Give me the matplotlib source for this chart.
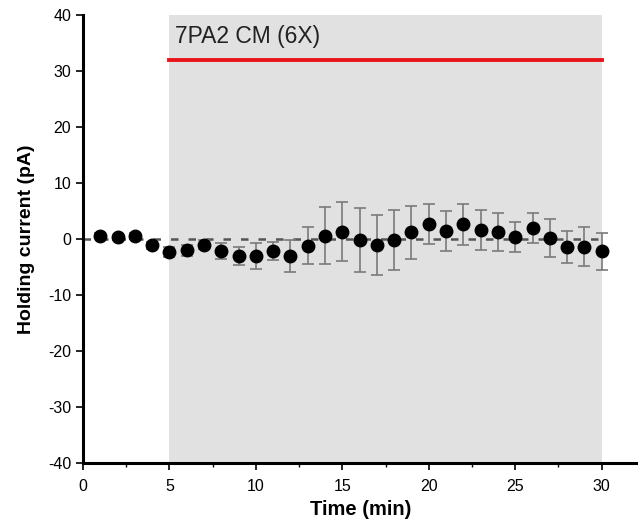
import numpy as np
import matplotlib.pyplot as plt
from matplotlib.ticker import MultipleLocator

plt.rcParams['font.family'] = ['Liberation Sans', 'DejaVu Sans']
plt.rcParams['axes.unicode_minus'] = False

# data
time_min = np.arange(1, 31)
current = [0.6, 0.3, 0.5, -1.1, -2.4, -2.0, -1.0, -2.2, -3.0, -3.0,
           -2.2, -3.0, -1.2, 0.6, 1.3, -0.1, -1.1, -0.2, 1.2, 2.7,
           1.4, 2.6, 1.6, 1.3, 0.4, 1.9, 0.1, -1.4, -1.4, -2.2]
sem = [0.5, 0.5, 0.5, 0.6, 0.9, 1.0, 0.8, 1.4, 1.6, 2.3,
       1.6, 2.8, 3.3, 5.1, 5.3, 5.7, 5.3, 5.4, 4.7, 3.6,
       3.6, 3.6, 3.6, 3.4, 2.7, 2.7, 3.4, 2.9, 3.5, 3.3]
treat_start, treat_end = 5, 30
treat_label = '7PA2 CM (6X)'

fig = plt.figure(figsize=(6.38, 5.27), dpi=100)
ax = fig.add_axes([0.130, 0.121, 0.870, 0.851])

ax.axvspan(treat_start, treat_end, color='#e1e1e1', zorder=0, lw=0)
ax.plot([treat_start, treat_end], [32, 32], color='#e8161b', lw=2.8, zorder=2)
ax.text(treat_start + 0.3, 34, treat_label, fontsize=16.5, color='#222222', va='bottom')
ax.plot([0, 30], [0, 0], ls=(0, (3, 4)), color='#555555', lw=1.8, zorder=1)

ax.errorbar(time_min, current, yerr=sem, fmt='o', color='black', ms=9,
            ecolor='#7a7a7a', elinewidth=1.2, capsize=4, capthick=1.2, zorder=3)

ax.set_xlim(0, 32.1)
ax.set_ylim(-40, 40)
ax.xaxis.set_minor_locator(MultipleLocator(2.5))
ax.yaxis.set_major_locator(MultipleLocator(10))
ax.set_xticks([0, 5, 10, 15, 20, 25, 30])
ax.spines['top'].set_visible(False)
ax.spines['right'].set_visible(False)
for s in ['left', 'bottom']:
    ax.spines[s].set_linewidth(2.2)
ax.tick_params(which='major', direction='out', length=5, width=1.2, labelsize=11.5)
ax.tick_params(axis='x', which='major', pad=6)
ax.tick_params(which='minor', direction='out', length=3, width=1.0)
ax.set_xlabel('Time (min)', fontsize=14.5, fontweight='bold', labelpad=5)
ax.set_ylabel('Holding current (pA)', fontsize=14, fontweight='bold', labelpad=9)

plt.savefig('out.png', dpi=100)
